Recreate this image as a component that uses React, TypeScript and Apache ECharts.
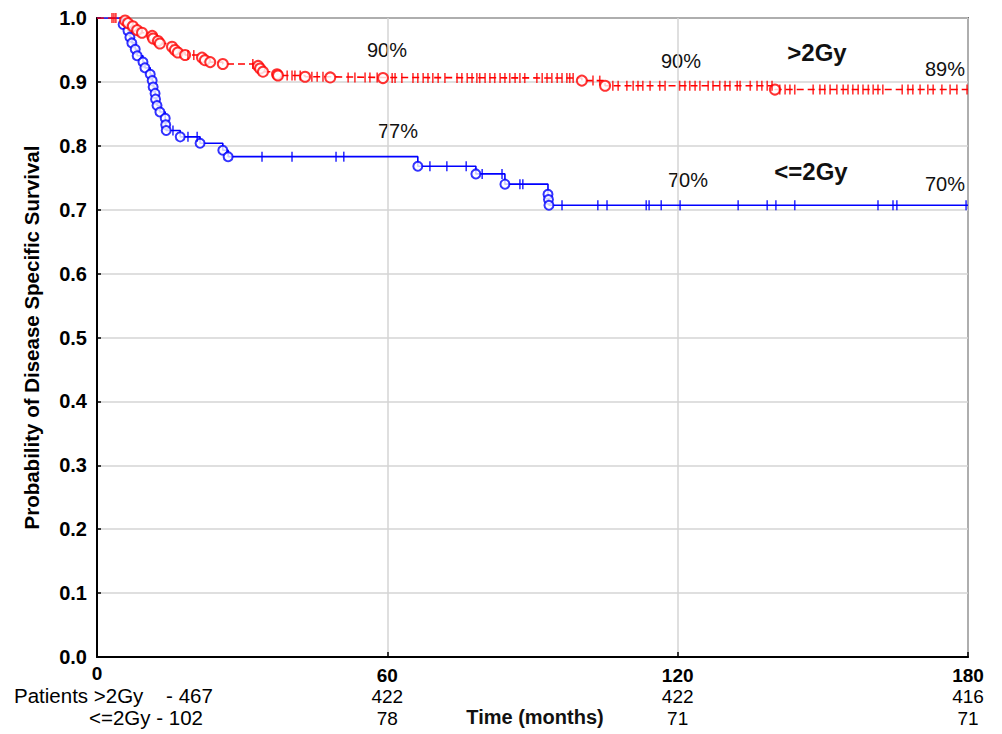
import React, { useEffect, useRef } from "react";
import * as echarts from "echarts";

// Kaplan–Meier event steps [months, survival after event]
const highEvents: [number, number][] = [
  [5.8, 0.996], [6.4, 0.992], [7.4, 0.987], [8.3, 0.981], [9.3, 0.977],
  [11.4, 0.972], [11.6, 0.968], [12.6, 0.964], [13.0, 0.960], [15.5, 0.955],
  [16.1, 0.950], [16.7, 0.946], [18.2, 0.942], [21.7, 0.938], [22.3, 0.934],
  [23.4, 0.931], [26.0, 0.928], [33.3, 0.925], [33.7, 0.921], [34.3, 0.916],
  [37.2, 0.912], [37.4, 0.910], [43.0, 0.908], [48.2, 0.907], [59.1, 0.906],
  [100.2, 0.902], [105.0, 0.894], [140.1, 0.888],
];
const lowEvents: [number, number][] = [
  [5.4, 0.990], [6.4, 0.980], [6.8, 0.970], [7.2, 0.961], [7.9, 0.951],
  [8.3, 0.941], [9.5, 0.931], [9.9, 0.922], [11.0, 0.912], [11.4, 0.902],
  [11.6, 0.892], [12.0, 0.882], [12.1, 0.873], [12.4, 0.863], [13.0, 0.853],
  [14.1, 0.843], [14.2, 0.833], [14.3, 0.824], [17.2, 0.814], [21.3, 0.804],
  [26.0, 0.793], [27.1, 0.783], [66.3, 0.768], [78.3, 0.756], [84.3, 0.740],
  [93.2, 0.724], [93.3, 0.716], [93.4, 0.707],
];
// Censored observation times (months)
const highCensored: number[] = [
  3.1, 3.5, 3.9, 18.8, 20.0, 32.2, 39.3, 40.3, 40.9, 42.0, 44.4, 45.5, 46.7,
  51.9, 53.3, 55.4, 56.4, 57.9, 61.0, 61.6, 63.0, 65.3, 66.3, 67.4, 68.4, 69.4,
  70.5, 71.9, 74.4, 75.4, 76.5, 77.5, 78.5, 79.1, 80.2, 81.2, 82.2, 83.3, 84.3,
  85.3, 86.4, 87.4, 88.4, 90.9, 92.0, 93.0, 94.0, 95.1, 96.1, 97.1, 97.7, 98.4,
  102.5, 103.9, 106.6, 107.7, 109.5, 110.8, 111.8, 112.8, 114.3, 116.3, 117.4,
  120.4, 121.5, 122.5, 123.6, 124.6, 126.3, 127.3, 128.7, 129.8, 130.8, 132.3,
  132.9, 135.0, 136.4, 137.4, 138.5, 139.5, 141.1, 142.2, 143.2, 144.2, 148.0,
  149.4, 150.4, 151.5, 152.9, 154.2, 155.2, 156.2, 157.3, 158.3, 159.4, 160.4,
  161.4, 162.4, 166.4, 167.6, 168.6, 170.1, 171.7, 172.8, 174.6, 176.3, 177.7,
  179.8,
];
const lowCensored: number[] = [
  15.7, 18.8, 20.7, 34.1, 40.3, 49.4, 51.0, 68.8, 72.3, 76.3, 79.6, 83.7, 87.4,
  88.0, 96.1, 103.5, 105.4, 113.5, 114.1, 116.6, 120.5, 132.5, 138.5, 140.3,
  144.2, 161.4, 164.5, 165.3, 179.6,
];

const xTicks = [0, 60, 120, 180];
const riskHigh = [467, 422, 422, 416];
const riskLow = [102, 78, 71, 71];

const RED = "#ff0000";
const BLUE = "#0000ff";
const MAX_T = 180;

function curve(events: [number, number][]): [number, number][] {
  const pts: [number, number][] = [[0, 1], ...events];
  pts.push([MAX_T, events[events.length - 1][1]]);
  return pts;
}
function survAt(events: [number, number][], t: number): number {
  let s = 1;
  for (const [et, es] of events) if (et <= t) s = es;
  return s;
}

export default function App() {
  const ref = useRef<HTMLDivElement>(null);
  useEffect(() => {
    if (!ref.current) return;
    const chart = echarts.init(ref.current, undefined, { renderer: "svg" });
    const font = "Arial, 'Liberation Sans', sans-serif";
    const censorSym = { symbol: "rect", symbolSize: [1.6, 10] as any };
    const annot = (text: string, x: number, y: number, bold = false, size = 20) => ({
      type: "text",
      x,
      y,
      style: {
        text,
        fill: "#111",
        font: `${bold ? "bold " : ""}${size}px ${font}`,
        textAlign: "center",
        textVerticalAlign: "middle",
      },
    });
    chart.setOption({
      animation: false,
      backgroundColor: "#fff",
      textStyle: { fontFamily: font },
      grid: {
        left: 97, right: 34, top: 18, bottom: 77,
        show: true, borderColor: "#000", borderWidth: 1.5,
      },
      xAxis: {
        type: "value",
        min: 0, max: MAX_T, interval: 60,
        axisLine: { show: true, onZero: false, lineStyle: { color: "#000", width: 2 } },
        axisTick: { show: true, inside: true, length: 5, lineStyle: { color: "#000", width: 1.5 } },
        splitLine: { show: true, lineStyle: { color: "#d4d4d4", width: 1.5 } },
        axisLabel: {
          margin: 8,
          formatter: (v: number) => {
            const i = xTicks.indexOf(v);
            if (i <= 0) return `{z|${v}}`;
            return `{b|${v}}\n{n|${riskHigh[i]}}\n{m|${riskLow[i]}}`;
          },
          rich: {
            z: { fontWeight: "bold", fontSize: 19, color: "#000", lineHeight: 17, fontFamily: font },
            b: { fontWeight: "bold", fontSize: 19, color: "#000", lineHeight: 21, fontFamily: font },
            n: { fontSize: 19, color: "#000", lineHeight: 21, fontFamily: font },
            m: { fontSize: 19, color: "#000", lineHeight: 23, fontFamily: font },
          },
        },
      },
      yAxis: {
        type: "value",
        min: 0, max: 1, interval: 0.1,
        name: "Probability of Disease Specific Survival",
        nameLocation: "middle",
        nameGap: 55,
        nameTextStyle: { fontWeight: "bold", fontSize: 20.5, color: "#000", fontFamily: font },
        axisLine: { show: true, lineStyle: { color: "#000", width: 2 } },
        axisTick: { show: true, inside: true, length: 4, lineStyle: { color: "#000", width: 1.5 } },
        splitLine: { show: true, lineStyle: { color: "#d4d4d4", width: 1.5 } },
        axisLabel: {
          margin: 10,
          fontWeight: "bold", fontSize: 20, color: "#000", fontFamily: font,
          formatter: (v: number) => v.toFixed(1),
        },
      },
      series: [
        {
          type: "line", step: "end", data: curve(lowEvents), showSymbol: false,
          lineStyle: { color: BLUE, width: 1.6 }, z: 2, silent: true,
        },
        {
          type: "scatter", data: lowEvents, symbol: "emptyCircle", symbolSize: 9,
          itemStyle: { color: BLUE, borderColor: BLUE, borderWidth: 1.8 }, z: 3,
        },
        {
          type: "scatter", data: lowCensored.map((t) => [t, survAt(lowEvents, t)]),
          ...censorSym, itemStyle: { color: BLUE }, z: 3,
        },
        {
          type: "line", step: "end", data: curve(highEvents), showSymbol: false,
          lineStyle: { color: RED, width: 1.6, type: [7, 4] }, z: 4, silent: true,
        },
        {
          type: "scatter", data: highEvents, symbol: "emptyCircle", symbolSize: 10,
          itemStyle: { color: RED, borderColor: RED, borderWidth: 1.8 }, z: 5,
        },
        {
          type: "scatter", data: highCensored.map((t) => [t, survAt(highEvents, t)]),
          ...censorSym, itemStyle: { color: RED }, z: 5,
        },
      ],
      graphic: [
        annot("90%", 387, 50),
        annot("90%", 681, 61),
        annot("89%", 945, 69),
        annot(">2Gy", 817, 52, true, 24),
        annot("77%", 398, 131),
        annot("70%", 688, 180),
        annot("<=2Gy", 811, 171, true, 24),
        annot("70%", 945, 184),
        {
          type: "text", x: 14, y: 695,
          style: { text: `Patients >2Gy    - ${riskHigh[0]}`, fill: "#000", font: `20.5px ${font}`, textVerticalAlign: "middle" },
        },
        {
          type: "text", x: 89, y: 717,
          style: { text: `<=2Gy - ${riskLow[0]}`, fill: "#000", font: `20.5px ${font}`, textVerticalAlign: "middle" },
        },
        annot("Time (months)", 535, 717, true, 20),
      ],
    });
    return () => chart.dispose();
  }, []);
  return (
    <div
      ref={ref}
      style={{ position: "absolute", left: 0, top: 0, width: 1002, height: 734 }}
    />
  );
}
